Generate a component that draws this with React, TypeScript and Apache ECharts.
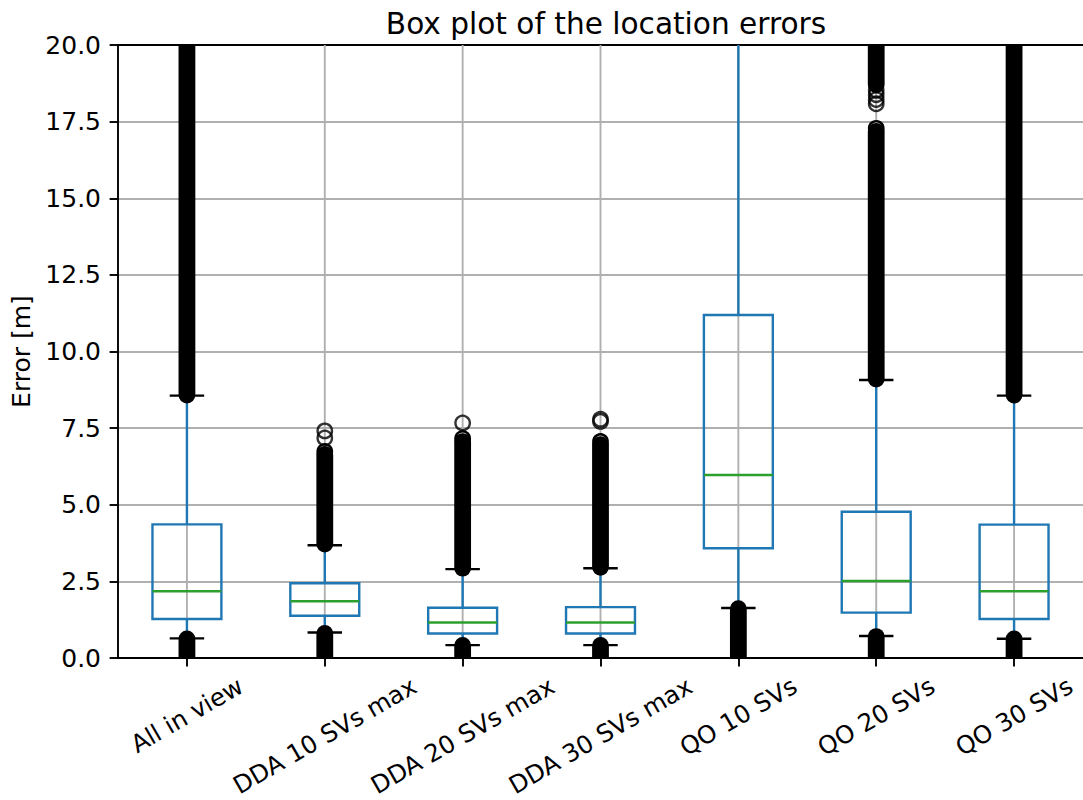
import React, { useEffect, useRef } from "react";
import * as echarts from "echarts";

const chartTitle = "Box plot of the location errors";
const yAxisName = "Error [m]";
const categories = [
  "All in view",
  "DDA 10 SVs max",
  "DDA 20 SVs max",
  "DDA 30 SVs max",
  "QO 10 SVs",
  "QO 20 SVs",
  "QO 30 SVs",
];
const lowerWhisker = [0.64, 0.83, 0.42, 0.42, 1.63, 0.72, 0.63];
const q1 = [1.27, 1.38, 0.8, 0.8, 3.58, 1.48, 1.27];
const median = [2.18, 1.85, 1.16, 1.16, 5.97, 2.51, 2.18];
const q3 = [4.36, 2.44, 1.64, 1.66, 11.19, 4.77, 4.35];
const upperWhisker = [8.56, 3.68, 2.9, 2.93, 26.0, 9.07, 8.56];

// dense runs of outliers: [category index, lowest value, highest value]
const denseOutliers: [number, number, number][] = [
  [0, 0.02, 0.62],
  [0, 8.58, 20.6],
  [1, 0.02, 0.8],
  [1, 3.72, 6.74],
  [2, 0.02, 0.41],
  [2, 2.93, 7.16],
  [3, 0.02, 0.41],
  [3, 2.96, 7.06],
  [4, 0.02, 1.61],
  [5, 0.02, 0.7],
  [5, 9.1, 17.28],
  [5, 18.7, 20.6],
  [6, 0.02, 0.62],
  [6, 8.58, 20.6],
];
// isolated outliers: [category index, value]
const sparseOutliers: [number, number][] = [
  [1, 7.41],
  [1, 7.18],
  [2, 7.67],
  [3, 7.79],
  [3, 7.72],
  [5, 18.52],
  [5, 18.38],
  [5, 18.22],
  [5, 18.08],
];
const yTickValues = [0, 2.5, 5, 7.5, 10, 12.5, 15, 17.5, 20];
const yTickLabels = ["0.0", "2.5", "5.0", "7.5", "10.0", "12.5", "15.0", "17.5", "20.0"];

const FONT = "DejaVu Sans";
const BLUE = "#1f77b4";
const GREEN = "#2ca02c";
const GRID = "#b0b0b0";
const LW = 2.4;
const R_OUT = 8.4;
const FS = 25;
const XFS = 24.5;
const TITLE_FS = 29.6;

function measure(text: string, size: number): number {
  const c = document.createElement("canvas");
  const ctx = c.getContext("2d")!;
  ctx.font = `${size}px "${FONT}"`;
  return ctx.measureText(text).width;
}

export default function App() {
  const ref = useRef<HTMLDivElement>(null);
  useEffect(() => {
    const chart = echarts.init(ref.current!, null, { renderer: "svg" });
    const titleW = measure(chartTitle, TITLE_FS);
    const plotLeft = 118;
    const plotWidth = 968;
    const option: any = {
      animation: false,
      backgroundColor: "#fff",
      title: {
        text: chartTitle,
        left: plotLeft + plotWidth / 2 - titleW / 2 - 1,
        top: 4,
        textStyle: { fontFamily: FONT, fontSize: TITLE_FS, fontWeight: "normal", color: "#000" },
      },
      grid: { left: plotLeft, top: 45, width: plotWidth, height: 613 },
      xAxis: [
        {
          type: "category",
          data: categories,
          boundaryGap: true,
          axisLine: { show: true, lineStyle: { color: "#000", width: 1.9 } },
          axisTick: { show: true, alignWithLabel: true, length: 8.4, lineStyle: { color: "#000", width: 1.9 } },
          axisLabel: { show: false },
          splitLine: { show: false },
        },
        {
          type: "category",
          data: categories,
          position: "top",
          axisLine: { show: true, onZero: false, lineStyle: { color: "#000", width: 1.9 } },
          axisTick: { show: false },
          axisLabel: { show: false },
          splitLine: { show: false },
        },
      ],
      yAxis: [
        {
          type: "value",
          min: 0,
          max: 20,
          interval: 2.5,
          name: yAxisName,
          nameLocation: "middle",
          nameGap: 78,
          nameTextStyle: { fontFamily: FONT, fontSize: FS, color: "#000" },
          axisLine: { show: true, lineStyle: { color: "#000", width: 1.9 } },
          axisTick: { show: true, length: 8.4, lineStyle: { color: "#000", width: 1.9 } },
          axisLabel: {
            margin: 17,
            fontFamily: FONT,
            fontSize: FS,
            color: "#000",
            formatter: (v: number) => {
              const k = yTickValues.indexOf(v);
              return k >= 0 ? yTickLabels[k] : String(v);
            },
          },
          splitLine: { show: true, lineStyle: { color: GRID, width: 1.9 } },
        },
      ],
      series: [
        {
          // vertical grid lines at category centres
          type: "custom",
          name: "vgrid",
          z: 1,
          silent: true,
          clip: true,
          data: categories.map((_, i) => [i, 0, 20]),
          encode: { x: 0, y: [1, 2] },
          renderItem: (params: any, api: any) => {
            const i = api.value(0);
            const p0 = api.coord([i, api.value(1)]);
            const p1 = api.coord([i, api.value(2)]);
            return {
              type: "line",
              shape: { x1: p0[0], y1: p0[1], x2: p1[0], y2: p1[1] },
              style: { stroke: GRID, lineWidth: 1.9 },
            };
          },
        },
        {
          type: "custom",
          name: "boxes",
          z: 2,
          clip: true,
          data: categories.map((_, i) => [i, lowerWhisker[i], q1[i], median[i], q3[i], upperWhisker[i]]),
          encode: { x: 0, y: [1, 2, 3, 4, 5] },
          renderItem: (params: any, api: any) => {
            const i = api.value(0);
            const cx = api.coord([i, 0])[0];
            const y = (v: number) => api.coord([i, v])[1];
            const band = api.size([1, 0])[0];
            const bw = band * 0.5;
            const cw = bw * 0.5;
            const lo = y(api.value(1));
            const b1 = y(api.value(2));
            const md = y(api.value(3));
            const b3 = y(api.value(4));
            const hi = y(api.value(5));
            const line = (x1: number, y1: number, x2: number, y2: number, c: string) => ({
              type: "line",
              shape: { x1, y1, x2, y2 },
              style: { stroke: c, lineWidth: LW },
            });
            return {
              type: "group",
              children: [
                line(cx, b3, cx, hi, BLUE),
                line(cx, b1, cx, lo, BLUE),
                line(cx - cw / 2, hi, cx + cw / 2, hi, "#000"),
                line(cx - cw / 2, lo, cx + cw / 2, lo, "#000"),
                {
                  type: "rect",
                  shape: { x: cx - bw / 2, y: b3, width: bw, height: b1 - b3 },
                  style: { fill: "none", stroke: BLUE, lineWidth: LW },
                },
                line(cx - bw / 2, md, cx + bw / 2, md, GREEN),
              ],
            };
          },
        },
        {
          type: "custom",
          name: "outliers (dense)",
          z: 3,
          clip: true,
          data: denseOutliers,
          encode: { x: 0, y: [1, 2] },
          renderItem: (params: any, api: any) => {
            const i = api.value(0);
            const from = api.value(1);
            const to = api.value(2);
            const cx = api.coord([i, 0])[0];
            const yFrom = api.coord([i, from])[1];
            const yTo = api.coord([i, to])[1];
            const upper = from > q3[i] && to < 20;
            const shift = upper ? 3 : 0;
            const top = yTo - R_OUT + shift;
            const bottom = yFrom + R_OUT;
            const children: any[] = [
              {
                type: "rect",
                shape: { x: cx - R_OUT, y: top, width: 2 * R_OUT, height: bottom - top, r: R_OUT },
                style: { fill: "#000" },
              },
            ];
            if (upper) {
              children.push({
                type: "circle",
                shape: { cx, cy: yTo, r: 7.2 },
                style: { fill: "none", stroke: "#000", lineWidth: LW },
              });
            }
            return { type: "group", children };
          },
        },
        {
          type: "scatter",
          name: "outliers",
          z: 3,
          symbol: "circle",
          symbolSize: 14.4,
          data: sparseOutliers.map((d) => [categories[d[0]], d[1]]),
          itemStyle: { color: "rgba(0,0,0,0)", borderColor: "#000", borderWidth: LW },
        },
      ],
    };
    chart.setOption(option);

    const axisY = chart.convertToPixel({ yAxisIndex: 0 }, 0) as number;
    const graphic = categories.map((c) => {
      const x = chart.convertToPixel({ xAxisIndex: 0 }, c) as number;
      const w = measure(c, XFS);
      const H = w * 0.5 + XFS * 1.164 * Math.cos(Math.PI / 6);
      return {
        type: "text",
        x,
        y: axisY + 13.5 + H / 2,
        rotation: Math.PI / 6,
        style: {
          text: c,
          fontFamily: FONT,
          fontSize: XFS,
          fill: "#000",
          align: "center",
          verticalAlign: "middle",
        },
      };
    });
    chart.setOption({ graphic });
    return () => chart.dispose();
  }, []);
  return (
    <div
      ref={ref}
      style={{ position: "fixed", left: 0, top: 0, width: 1083, height: 800, background: "#fff" }}
    />
  );
}
